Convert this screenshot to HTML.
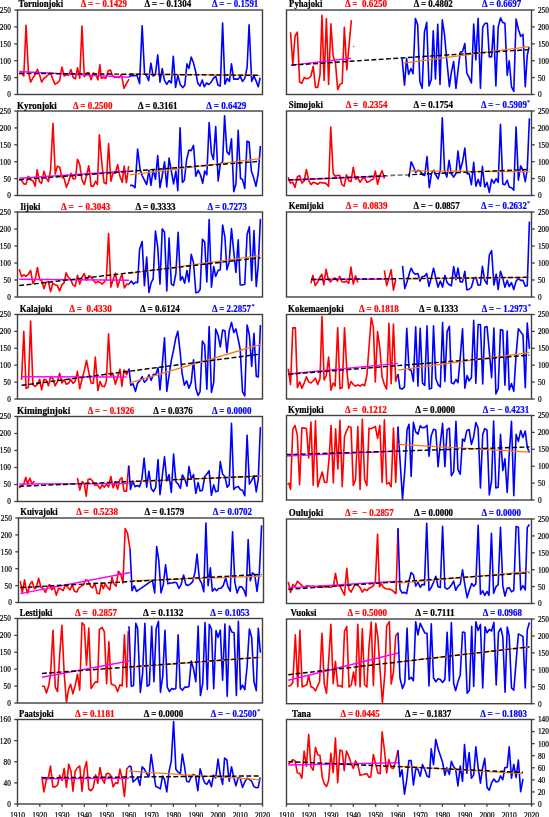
<!DOCTYPE html>
<html><head><meta charset="utf-8"><style>
html,body{margin:0;padding:0;background:#fff;}
svg{display:block;font-family:"Liberation Serif", serif;will-change:transform;}
</style></head><body>
<svg width="549" height="817" viewBox="0 0 549 817">
<rect width="549" height="817" fill="#fff"/>
<polyline points="19.27,74.07 21.54,73.31 23.8,76.03 26.07,25.39 28.34,71.5 30.61,82.08 32.87,77.85 35.14,74.52 37.41,69.23 39.68,75.28 41.64,82.08 43.91,78.3 46.18,76.79 48.45,74.52 50.56,73.31 52.83,79.06 55.1,84.35 57.37,82.84 59.63,80.57 61.9,66.96 64.17,76.03 66.44,74.52 68.7,75.28 70.97,69.53 73.24,77.54 75.51,78.75 77.47,67.72 79.74,78.3 82.01,26.14 84.28,76.79 86.54,73.01 88.81,72.56 91.08,79.81 93.35,73.01 95.62,74.52 97.88,79.81 99.85,64.69 101.33,78.3 103.74,77.54 105.86,78.3 108.28,70.74 110.4,69.99 112.36,75.28 114.63,77.54 116.9,76.79 119.17,77.54 121.43,74.52 124,88.43 126.42,83.59 128.99,79.06" fill="none" stroke="#ff0000" stroke-width="1.6" stroke-linejoin="round"/>
<polyline points="128.99,76.79 131.26,75.73 134.28,75.73 137.01,75.28 139.58,83.59 142.15,25.84 144.56,73.77 146.38,75.28 148.65,80.57 150.91,63.18 153.18,76.03 155.45,74.52 157.72,54.87 159.99,82.08 162.25,68.47 164.52,80.57 166.79,84.35 169.06,80.57 171.32,82.84 173.29,56.38 175.56,87.37 177.83,75.28 180.4,85.1 180.84,85.27 182.83,87.56 184.81,85.27 186.96,63.85 188.95,68.44 191.24,56.96 193.54,63.08 195.83,72.26 197.67,82.97 199.96,86.03 202.26,79.91 204.25,86.8 206.54,82.97 208.84,84.5 211.13,82.21 213.43,78.38 215.72,76.09 218.02,85.27 220.31,86.03 222.61,22.99 224.9,84.2 227.2,78.38 229.49,81.44 231.48,63.85 233.78,79.15 235.92,79.15 238.21,79.15 240.2,76.09 242.5,81.44 244.79,78.38 247.09,67.67 249.08,24.83 251.68,81.44 253.97,76.09 256.27,81.44 258.26,86.8 260.09,77.62" fill="none" stroke="#0000ff" stroke-width="1.6" stroke-linejoin="round"/>
<line x1="19.27" y1="71.5" x2="128.99" y2="77.24" stroke="#ff00ff" stroke-width="1.45"/>
<line x1="128.99" y1="73.92" x2="260.09" y2="75.32" stroke="#ff7a00" stroke-width="1.25"/>
<line x1="19.27" y1="73.31" x2="260.09" y2="75.32" stroke="#000" stroke-width="1.45" stroke-dasharray="4.9 2.4"/>
<rect x="17.5" y="10" width="245" height="84.5" fill="none" stroke="#404040" stroke-width="1.4"/>
<line x1="14.3" y1="94.5" x2="17.5" y2="94.5" stroke="#404040" stroke-width="1.3"/>
<text x="10.8" y="97.4" font-size="7.3" text-anchor="end" stroke="#000" stroke-width="0.2">0</text>
<line x1="14.3" y1="77.6" x2="17.5" y2="77.6" stroke="#404040" stroke-width="1.3"/>
<text x="10.8" y="80.5" font-size="7.3" text-anchor="end" stroke="#000" stroke-width="0.2">50</text>
<line x1="14.3" y1="60.7" x2="17.5" y2="60.7" stroke="#404040" stroke-width="1.3"/>
<text x="10.8" y="63.6" font-size="7.3" text-anchor="end" stroke="#000" stroke-width="0.2">100</text>
<line x1="14.3" y1="43.8" x2="17.5" y2="43.8" stroke="#404040" stroke-width="1.3"/>
<text x="10.8" y="46.7" font-size="7.3" text-anchor="end" stroke="#000" stroke-width="0.2">150</text>
<line x1="14.3" y1="26.9" x2="17.5" y2="26.9" stroke="#404040" stroke-width="1.3"/>
<text x="10.8" y="29.8" font-size="7.3" text-anchor="end" stroke="#000" stroke-width="0.2">200</text>
<line x1="14.3" y1="10" x2="17.5" y2="10" stroke="#404040" stroke-width="1.3"/>
<text x="10.8" y="12.9" font-size="7.3" text-anchor="end" stroke="#000" stroke-width="0.2">250</text>
<text x="18.6" y="6.8" font-size="9.8" font-weight="bold" fill="#000" stroke="#000" stroke-width="0.22" textLength="44.6" lengthAdjust="spacingAndGlyphs" xml:space="preserve">Tornionjoki</text>
<text x="80.7" y="6.8" font-size="9.8" font-weight="bold" fill="#ff0000" stroke="#ff0000" stroke-width="0.22" textLength="46.3" lengthAdjust="spacingAndGlyphs" xml:space="preserve">Δ = − 0.1429</text>
<text x="144.6" y="6.8" font-size="9.8" font-weight="bold" fill="#000" stroke="#000" stroke-width="0.22" textLength="46.5" lengthAdjust="spacingAndGlyphs" xml:space="preserve">Δ = − 0.1304</text>
<text x="212" y="6.8" font-size="9.8" font-weight="bold" fill="#0000ff" stroke="#0000ff" stroke-width="0.22" textLength="46.3" lengthAdjust="spacingAndGlyphs" xml:space="preserve">Δ = − 0.1591</text>
<polyline points="290.54,32.19 292.8,64.69 295.07,35.97 297.34,32.19 299.61,82.08 301.87,83.29 304.14,77.54 306.41,78.75 308.68,78.3 310.95,76.03 313.21,66.21 315.48,87.37 317.75,87.37 320.02,74.52 321.98,15.26 324.1,80.57 326.37,18.58 328.63,84.35 330.9,23.87 333.17,56.38 335.44,62.43 337.7,89.64 339.97,84.35 342.24,83.29 344.36,27.35 346.78,69.99 348.89,47.31 351.31,20.09" fill="none" stroke="#ff0000" stroke-width="1.6" stroke-linejoin="round"/>
<polyline points="402.07,58.65 404.49,85.1 406.61,58.65 408.58,74.52 410.84,68.47 413.11,73.77 415.38,18.58 417.65,24.63 419.91,82.08 422.18,88.13 424.45,32.19 426.72,22.36 428.99,85.86 431.25,79.81 433.22,30.68 435.49,79.06 437.75,24.33 440.02,84.35 442.29,19.79 444.56,35.21 446.83,60.91 449.4,86.62 451.37,72.26 453.66,61.55 455.96,88.33 457.95,70.73 460.24,52.37 462.54,51.61 464.83,43.5 466.82,73.03 469.11,77.62 471.41,82.97 473.7,24.07 475.85,60.02 478.14,18.4 480.44,88.33 482.73,27.13 485.03,23.3 487.32,23.3 489.31,56.96 491.61,56.66 493.6,25.6 495.89,86.03 498.19,27.13 500.48,17.95 502.78,22.54 504.92,23.3 507.21,75.32 509.2,60.79 511.5,86.8 513.79,91.39 516.09,19.02 518.38,29.42 520.68,36.31 522.97,34.32 525.27,86.8 527.26,55.43 529.09,47.02" fill="none" stroke="#0000ff" stroke-width="1.6" stroke-linejoin="round"/>
<circle cx="353.73" cy="46.55" r="0.75" fill="#666"/>
<line x1="291.29" y1="65.15" x2="351.01" y2="58.19" stroke="#ff00ff" stroke-width="1.45"/>
<line x1="403.28" y1="63.18" x2="529.09" y2="46.56" stroke="#ff7a00" stroke-width="1.25"/>
<line x1="291.29" y1="65.15" x2="529.09" y2="49.62" stroke="#000" stroke-width="1.45" stroke-dasharray="4.9 2.4"/>
<rect x="286.5" y="10" width="245" height="84.5" fill="none" stroke="#404040" stroke-width="1.4"/>
<line x1="531.5" y1="94.5" x2="534.7" y2="94.5" stroke="#404040" stroke-width="1.3"/>
<text x="537.9" y="97.4" font-size="7.3" stroke="#000" stroke-width="0.2">0</text>
<line x1="531.5" y1="77.6" x2="534.7" y2="77.6" stroke="#404040" stroke-width="1.3"/>
<text x="537.9" y="80.5" font-size="7.3" stroke="#000" stroke-width="0.2">50</text>
<line x1="531.5" y1="60.7" x2="534.7" y2="60.7" stroke="#404040" stroke-width="1.3"/>
<text x="537.9" y="63.6" font-size="7.3" stroke="#000" stroke-width="0.2">100</text>
<line x1="531.5" y1="43.8" x2="534.7" y2="43.8" stroke="#404040" stroke-width="1.3"/>
<text x="537.9" y="46.7" font-size="7.3" stroke="#000" stroke-width="0.2">150</text>
<line x1="531.5" y1="26.9" x2="534.7" y2="26.9" stroke="#404040" stroke-width="1.3"/>
<text x="537.9" y="29.8" font-size="7.3" stroke="#000" stroke-width="0.2">200</text>
<line x1="531.5" y1="10" x2="534.7" y2="10" stroke="#404040" stroke-width="1.3"/>
<text x="537.9" y="12.9" font-size="7.3" stroke="#000" stroke-width="0.2">250</text>
<text x="289.1" y="6.6" font-size="9.8" font-weight="bold" fill="#000" stroke="#000" stroke-width="0.22" textLength="33.2" lengthAdjust="spacingAndGlyphs" xml:space="preserve">Pyhajoki</text>
<text x="344.9" y="6.6" font-size="9.8" font-weight="bold" fill="#ff0000" stroke="#ff0000" stroke-width="0.22" textLength="42.1" lengthAdjust="spacingAndGlyphs" xml:space="preserve">Δ =  0.6250</text>
<text x="413.8" y="6.6" font-size="9.8" font-weight="bold" fill="#000" stroke="#000" stroke-width="0.22" textLength="39" lengthAdjust="spacingAndGlyphs" xml:space="preserve">Δ = 0.4802</text>
<text x="481.9" y="6.6" font-size="9.8" font-weight="bold" fill="#0000ff" stroke="#0000ff" stroke-width="0.22" textLength="39.3" lengthAdjust="spacingAndGlyphs" xml:space="preserve">Δ = 0.6697</text>
<polyline points="19.27,179.75 21.54,180.06 23.8,183.84 26.07,184.14 28.34,176.28 30.61,180.06 32.87,180.81 35.14,186.1 37.11,169.78 39.38,181.57 41.49,183.38 43.91,171.29 46.18,177.79 48.45,181.57 50.56,170.23 52.98,123.36 55.25,174.01 57.37,166.15 59.63,167.21 61.9,177.03 64.17,178.54 66.44,187.31 68.7,181.57 70.97,173.25 73.24,178.85 75.51,178.54 77.47,159.19 79.74,164.64 82.01,180.06 84.28,184.59 86.54,175.52 88.81,165.69 91.08,186.1 93.35,186.1 95.62,181.27 97.43,184.59 99.4,134.7 102.08,165.69 104.05,182.78 106.32,183.84 108.58,143.47 110.85,181.27 113.12,172.5 115.39,173.25 117.65,164.64 119.92,176.28 122.19,182.32 124.15,166.15 126.42,182.78 128.69,166.15" fill="none" stroke="#ff0000" stroke-width="1.6" stroke-linejoin="round"/>
<polyline points="130.05,185.35 132.47,185.35 135.04,187.62 137.61,149.06 140.03,168.72 142.15,175.52 144.41,180.06 146.68,184.59 148.95,170.23 150.91,185.35 153.18,169.47 155.45,179.3 157.72,155.56 159.99,187.62 162.25,175.52 164.52,161.91 166.79,186.86 169.06,158.13 171.32,170.99 173.59,183.84 175.86,170.99 177.83,190.64 180.09,127.9 182.37,182.44 184.36,180.15 186.65,159.49 188.95,150.01 191.24,150.62 193.54,145.42 195.83,176.32 198.13,170.2 200.42,174.79 202.72,183.21 204.7,170.97 206.85,174.79 209.14,122.46 211.44,153.37 213.43,159.49 215.72,126.6 218.17,180.91 220.31,164.08 222.61,161.79 224.6,115.89 226.89,151.84 229.19,154.6 231.48,138.84 233.78,191.62 235.92,183.97 238.21,130.42 240.51,178.62 242.5,179.38 244.79,188.56 247.09,141.13 249.08,141.9 251.37,170.97 253.67,177.85 255.96,186.27 258.26,173.26 260.4,146.03" fill="none" stroke="#0000ff" stroke-width="1.6" stroke-linejoin="round"/>
<line x1="19.27" y1="178.24" x2="128.99" y2="170.99" stroke="#ff00ff" stroke-width="1.45"/>
<line x1="129.75" y1="174.77" x2="260.09" y2="158.73" stroke="#ff7a00" stroke-width="1.25"/>
<line x1="19.27" y1="179.75" x2="260.09" y2="161.33" stroke="#000" stroke-width="1.45" stroke-dasharray="4.9 2.4"/>
<rect x="17.5" y="111" width="245" height="84.5" fill="none" stroke="#404040" stroke-width="1.4"/>
<line x1="14.3" y1="195.5" x2="17.5" y2="195.5" stroke="#404040" stroke-width="1.3"/>
<text x="10.8" y="198.4" font-size="7.3" text-anchor="end" stroke="#000" stroke-width="0.2">0</text>
<line x1="14.3" y1="178.6" x2="17.5" y2="178.6" stroke="#404040" stroke-width="1.3"/>
<text x="10.8" y="181.5" font-size="7.3" text-anchor="end" stroke="#000" stroke-width="0.2">50</text>
<line x1="14.3" y1="161.7" x2="17.5" y2="161.7" stroke="#404040" stroke-width="1.3"/>
<text x="10.8" y="164.6" font-size="7.3" text-anchor="end" stroke="#000" stroke-width="0.2">100</text>
<line x1="14.3" y1="144.8" x2="17.5" y2="144.8" stroke="#404040" stroke-width="1.3"/>
<text x="10.8" y="147.7" font-size="7.3" text-anchor="end" stroke="#000" stroke-width="0.2">150</text>
<line x1="14.3" y1="127.9" x2="17.5" y2="127.9" stroke="#404040" stroke-width="1.3"/>
<text x="10.8" y="130.8" font-size="7.3" text-anchor="end" stroke="#000" stroke-width="0.2">200</text>
<line x1="14.3" y1="111" x2="17.5" y2="111" stroke="#404040" stroke-width="1.3"/>
<text x="10.8" y="113.9" font-size="7.3" text-anchor="end" stroke="#000" stroke-width="0.2">250</text>
<text x="17.1" y="108.6" font-size="9.8" font-weight="bold" fill="#000" stroke="#000" stroke-width="0.22" textLength="39.7" lengthAdjust="spacingAndGlyphs" xml:space="preserve">Kyronjoki</text>
<text x="73" y="108.6" font-size="9.8" font-weight="bold" fill="#ff0000" stroke="#ff0000" stroke-width="0.22" textLength="39.4" lengthAdjust="spacingAndGlyphs" xml:space="preserve">Δ = 0.2500</text>
<text x="138" y="108.6" font-size="9.8" font-weight="bold" fill="#000" stroke="#000" stroke-width="0.22" textLength="39.4" lengthAdjust="spacingAndGlyphs" xml:space="preserve">Δ = 0.3161</text>
<text x="206.3" y="108.6" font-size="9.8" font-weight="bold" fill="#0000ff" stroke="#0000ff" stroke-width="0.22" textLength="40" lengthAdjust="spacingAndGlyphs" xml:space="preserve">Δ = 0.6429</text>
<polyline points="288.27,177.34 290.23,183.08 292.8,182.32 295.07,187.31 297.34,177.03 299.61,175.52 301.87,183.08 304.14,180.81 306.41,169.47 308.68,180.06 310.95,184.59 313.21,182.32 315.48,183.08 317.75,184.29 320.02,182.32 322.28,183.08 324.55,182.78 326.82,184.29 328.63,186.41 330.75,127.14 333.17,173.25 335.13,176.28 337.4,175.52 339.67,175.22 341.94,184.59 344.21,186.1 346.47,174.77 348.74,180.81 351.01,181.57 353.28,167.21 355.54,179.3 357.81,177.79 360.08,182.32 362.35,178.54 364.62,177.79 366.88,182.32 369,181.57 371.23,180.06 373.35,179.3 375.32,170.99 377.58,184.29 379.85,175.52 382.12,170.68 384.39,178.54" fill="none" stroke="#ff0000" stroke-width="1.6" stroke-linejoin="round"/>
<polyline points="409.03,177.03 411.15,161.91 413.41,166.45 415.68,172.5 417.95,170.23 420.22,170.99 422.48,174.77 424.75,175.52 427.02,156.62 429.29,187.62 431.56,173.25 433.82,170.23 436.09,175.52 438.06,178.85 440.32,170.23 442.29,117.77 444.56,170.23 446.83,177.03 449.09,160.4 451.37,174.03 453.66,177.09 455.96,173.26 457.95,151.08 460.24,170.2 462.54,161.79 464.83,148.02 467.13,174.03 469.11,173.26 471.41,184.74 473.7,162.25 475.85,186.27 478.14,179.38 480.44,186.27 482.43,166.38 484.72,187.03 487.02,182.44 489.31,192.39 491.61,179.38 493.9,183.21 496.2,178.62 498.19,182.44 500.48,124.3 502.78,183.97 504.92,184.74 507.21,180.15 509.2,187.03 511.5,187.8 513.79,190.09 516.09,127.05 518.38,180.15 520.68,165.92 522.97,170.2 525.27,181.68 527.26,169.44 529.4,118.18" fill="none" stroke="#0000ff" stroke-width="1.6" stroke-linejoin="round"/>
<line x1="288.27" y1="180.06" x2="384.39" y2="176.28" stroke="#ff00ff" stroke-width="1.45"/>
<line x1="409.33" y1="170.99" x2="529.4" y2="171.73" stroke="#ff7a00" stroke-width="1.25"/>
<line x1="288.27" y1="180.06" x2="529.4" y2="169.44" stroke="#000" stroke-width="1.45" stroke-dasharray="4.9 2.4"/>
<line x1="386" y1="175.75" x2="408" y2="174.78" stroke="#fff" stroke-opacity="0.45" stroke-width="2"/>
<rect x="286.5" y="111" width="245" height="84.5" fill="none" stroke="#404040" stroke-width="1.4"/>
<line x1="531.5" y1="195.5" x2="534.7" y2="195.5" stroke="#404040" stroke-width="1.3"/>
<text x="537.9" y="198.4" font-size="7.3" stroke="#000" stroke-width="0.2">0</text>
<line x1="531.5" y1="178.6" x2="534.7" y2="178.6" stroke="#404040" stroke-width="1.3"/>
<text x="537.9" y="181.5" font-size="7.3" stroke="#000" stroke-width="0.2">50</text>
<line x1="531.5" y1="161.7" x2="534.7" y2="161.7" stroke="#404040" stroke-width="1.3"/>
<text x="537.9" y="164.6" font-size="7.3" stroke="#000" stroke-width="0.2">100</text>
<line x1="531.5" y1="144.8" x2="534.7" y2="144.8" stroke="#404040" stroke-width="1.3"/>
<text x="537.9" y="147.7" font-size="7.3" stroke="#000" stroke-width="0.2">150</text>
<line x1="531.5" y1="127.9" x2="534.7" y2="127.9" stroke="#404040" stroke-width="1.3"/>
<text x="537.9" y="130.8" font-size="7.3" stroke="#000" stroke-width="0.2">200</text>
<line x1="531.5" y1="111" x2="534.7" y2="111" stroke="#404040" stroke-width="1.3"/>
<text x="537.9" y="113.9" font-size="7.3" stroke="#000" stroke-width="0.2">250</text>
<text x="288.8" y="108.2" font-size="9.8" font-weight="bold" fill="#000" stroke="#000" stroke-width="0.22" textLength="34.1" lengthAdjust="spacingAndGlyphs" xml:space="preserve">Simojoki</text>
<text x="345.7" y="108.2" font-size="9.8" font-weight="bold" fill="#ff0000" stroke="#ff0000" stroke-width="0.22" textLength="41.7" lengthAdjust="spacingAndGlyphs" xml:space="preserve">Δ =  0.2354</text>
<text x="413.4" y="108.2" font-size="9.8" font-weight="bold" fill="#000" stroke="#000" stroke-width="0.22" textLength="39.7" lengthAdjust="spacingAndGlyphs" xml:space="preserve">Δ = 0.1754</text>
<text x="480.9" y="108.2" font-size="9.8" font-weight="bold" fill="#0000ff" stroke="#0000ff" stroke-width="0.22" textLength="45.9" lengthAdjust="spacingAndGlyphs" xml:space="preserve">Δ = − 0.5909</text>
<text x="527.1" y="104.3" font-size="6.5" font-weight="bold" fill="#0000ff">*</text>
<polyline points="19.27,269.26 21.54,276.52 23.8,275.01 26.07,276.22 28.34,274.25 30.61,270.47 32.87,283.32 35.14,279.85 37.41,267.45 39.68,279.54 41.95,281.06 43.91,288.62 46.18,282.27 48.45,281.81 50.56,291.64 52.83,283.32 55.1,284.84 57.37,285.59 59.63,290.88 61.9,284.84 64.17,282.57 66.13,272.74 68.4,277.28 70.67,279.54 72.94,284.84 75.21,286.35 77.47,275.31 79.74,284.08 82.01,277.28 84.28,273.5 86.54,280.3 88.81,275.77 91.08,277.28 93.35,280.3 95.62,282.87 97.88,281.81 100,282.27 102.08,284.08 104.35,281.81 106.32,279.54 108.58,233.43 110.85,287.1 113.12,279.54 115.39,273.19 117.65,287.1 119.92,279.54 121.89,274.25 124.46,287.86 126.72,284.08 128.99,284.84" fill="none" stroke="#ff0000" stroke-width="1.6" stroke-linejoin="round"/>
<polyline points="128.99,284.08 131.26,281.06 133.53,284.08 135.49,282.27 137.61,282.57 139.58,249.31 142.15,241.45 144.41,285.59 146.68,257.17 148.95,292.4 151.22,282.57 153.18,278.79 155.45,231.17 157.72,247.04 159.99,284.08 162.25,228.9 164.52,231.92 166.79,290.88 169.06,237.97 171.32,284.08 173.59,285.59 175.86,273.5 178.13,232.38 180.4,280.3 182.37,276.56 184.66,283.14 186.96,270.44 188.95,281.91 191.24,254.37 193.54,262.79 195.83,292.62 198.13,292.32 200.11,289.56 202.41,239.38 204.7,242.13 206.85,281.91 209.14,219.49 211.44,287.27 213.73,266.61 215.72,276.56 218.02,270.44 220.31,269.67 222.61,224.99 224.9,236.78 226.89,269.67 229.19,262.02 231.48,228.67 233.78,252.08 235.92,272.43 238.21,239.84 240.2,284.97 242.5,284.97 244.79,284.21 247.09,234.48 249.38,226.83 251.68,280.38 253.97,230.66 256.27,286.5 258.26,265.08 260.4,218.87" fill="none" stroke="#0000ff" stroke-width="1.6" stroke-linejoin="round"/>
<line x1="19.27" y1="279.24" x2="128.99" y2="280.3" stroke="#ff00ff" stroke-width="1.45"/>
<line x1="128.99" y1="273.5" x2="260.4" y2="255.6" stroke="#ff7a00" stroke-width="1.25"/>
<line x1="19.27" y1="285.59" x2="260.4" y2="257.74" stroke="#000" stroke-width="1.45" stroke-dasharray="4.9 2.4"/>
<rect x="17.5" y="212" width="245" height="85" fill="none" stroke="#404040" stroke-width="1.4"/>
<line x1="14.3" y1="297" x2="17.5" y2="297" stroke="#404040" stroke-width="1.3"/>
<text x="10.8" y="299.9" font-size="7.3" text-anchor="end" stroke="#000" stroke-width="0.2">0</text>
<line x1="14.3" y1="280" x2="17.5" y2="280" stroke="#404040" stroke-width="1.3"/>
<text x="10.8" y="282.9" font-size="7.3" text-anchor="end" stroke="#000" stroke-width="0.2">50</text>
<line x1="14.3" y1="263" x2="17.5" y2="263" stroke="#404040" stroke-width="1.3"/>
<text x="10.8" y="265.9" font-size="7.3" text-anchor="end" stroke="#000" stroke-width="0.2">100</text>
<line x1="14.3" y1="246" x2="17.5" y2="246" stroke="#404040" stroke-width="1.3"/>
<text x="10.8" y="248.9" font-size="7.3" text-anchor="end" stroke="#000" stroke-width="0.2">150</text>
<line x1="14.3" y1="229" x2="17.5" y2="229" stroke="#404040" stroke-width="1.3"/>
<text x="10.8" y="231.9" font-size="7.3" text-anchor="end" stroke="#000" stroke-width="0.2">200</text>
<line x1="14.3" y1="212" x2="17.5" y2="212" stroke="#404040" stroke-width="1.3"/>
<text x="10.8" y="214.9" font-size="7.3" text-anchor="end" stroke="#000" stroke-width="0.2">250</text>
<text x="20.2" y="209.6" font-size="9.8" font-weight="bold" fill="#000" stroke="#000" stroke-width="0.22" textLength="20.3" lengthAdjust="spacingAndGlyphs" xml:space="preserve">Iijoki</text>
<text x="61" y="209.6" font-size="9.8" font-weight="bold" fill="#ff0000" stroke="#ff0000" stroke-width="0.22" textLength="49.4" lengthAdjust="spacingAndGlyphs" xml:space="preserve">Δ =  − 0.3043</text>
<text x="135.4" y="209.6" font-size="9.8" font-weight="bold" fill="#000" stroke="#000" stroke-width="0.22" textLength="40.2" lengthAdjust="spacingAndGlyphs" xml:space="preserve">Δ = 0.3333</text>
<text x="207.6" y="209.6" font-size="9.8" font-weight="bold" fill="#0000ff" stroke="#0000ff" stroke-width="0.22" textLength="39.4" lengthAdjust="spacingAndGlyphs" xml:space="preserve">Δ = 0.7273</text>
<polyline points="310.95,283.32 312.91,275.31 315.18,285.59 317.45,282.57 319.56,278.03 321.83,274.25 323.8,284.84 326.06,269.26 328.33,279.54 330.6,281.81 332.87,278.79 335.13,278.03 337.4,281.06 339.67,276.22 341.94,281.81 344.21,282.27 346.47,281.06 348.74,283.32 351.01,267.15 353.28,284.08 355.54,275.77 357.81,282.57" fill="none" stroke="#ff0000" stroke-width="1.6" stroke-linejoin="round"/>
<polyline points="384.39,270.47 386.65,285.59 388.92,278.03 391.19,269.72 393.46,290.13 395.72,279.54" fill="none" stroke="#ff0000" stroke-width="1.6" stroke-linejoin="round"/>
<polyline points="402.53,265.94 404.8,288.62 407.06,281.81 409.33,273.5 411.15,268.21 413.41,272.74 415.38,274.25 417.95,273.5 419.91,281.06 422.18,276.52 424.45,276.22 426.72,273.5 428.99,286.35 431.25,278.03 433.52,268.21 435.79,278.03 438.06,287.1 440.32,281.06 442.59,287.1 444.86,275.31 447.13,282.57 449.4,284.84 451.37,285.74 453.66,266.61 455.96,279.62 457.95,268.14 460.24,281.91 462.54,281.91 464.83,271.2 466.82,289.87 469.11,289.26 471.41,287.27 473.7,278.85 475.85,277.32 478.14,285.28 480.44,284.97 482.43,266.31 484.72,280.38 487.02,284.21 489.31,255.14 491.61,250.55 493.9,284.97 496.2,273.96 498.19,289.56 500.48,271.2 502.78,278.09 504.92,287.27 507.21,280.38 509.2,286.5 511.5,282.68 513.79,289.56 516.09,281.15 518.38,278.55 520.68,280.38 522.97,280.38 525.27,286.2 527.26,285.74 529.4,221.48" fill="none" stroke="#0000ff" stroke-width="1.6" stroke-linejoin="round"/>
<line x1="310.95" y1="279.54" x2="395.72" y2="279.09" stroke="#ff00ff" stroke-width="1.45"/>
<line x1="402.53" y1="278.79" x2="529.4" y2="277.32" stroke="#ff7a00" stroke-width="1.25"/>
<line x1="310.95" y1="279.54" x2="529.4" y2="277.32" stroke="#000" stroke-width="1.45" stroke-dasharray="4.9 2.4"/>
<rect x="286.5" y="212" width="245" height="85" fill="none" stroke="#404040" stroke-width="1.4"/>
<line x1="531.5" y1="297" x2="534.7" y2="297" stroke="#404040" stroke-width="1.3"/>
<text x="537.9" y="299.9" font-size="7.3" stroke="#000" stroke-width="0.2">0</text>
<line x1="531.5" y1="280" x2="534.7" y2="280" stroke="#404040" stroke-width="1.3"/>
<text x="537.9" y="282.9" font-size="7.3" stroke="#000" stroke-width="0.2">50</text>
<line x1="531.5" y1="263" x2="534.7" y2="263" stroke="#404040" stroke-width="1.3"/>
<text x="537.9" y="265.9" font-size="7.3" stroke="#000" stroke-width="0.2">100</text>
<line x1="531.5" y1="246" x2="534.7" y2="246" stroke="#404040" stroke-width="1.3"/>
<text x="537.9" y="248.9" font-size="7.3" stroke="#000" stroke-width="0.2">150</text>
<line x1="531.5" y1="229" x2="534.7" y2="229" stroke="#404040" stroke-width="1.3"/>
<text x="537.9" y="231.9" font-size="7.3" stroke="#000" stroke-width="0.2">200</text>
<line x1="531.5" y1="212" x2="534.7" y2="212" stroke="#404040" stroke-width="1.3"/>
<text x="537.9" y="214.9" font-size="7.3" stroke="#000" stroke-width="0.2">250</text>
<text x="288.8" y="208.7" font-size="9.8" font-weight="bold" fill="#000" stroke="#000" stroke-width="0.22" textLength="34.9" lengthAdjust="spacingAndGlyphs" xml:space="preserve">Kemijoki</text>
<text x="345.7" y="208.7" font-size="9.8" font-weight="bold" fill="#ff0000" stroke="#ff0000" stroke-width="0.22" textLength="41.7" lengthAdjust="spacingAndGlyphs" xml:space="preserve">Δ =  0.0839</text>
<text x="413.4" y="208.7" font-size="9.8" font-weight="bold" fill="#000" stroke="#000" stroke-width="0.22" textLength="46.3" lengthAdjust="spacingAndGlyphs" xml:space="preserve">Δ = − 0.0857</text>
<text x="480.9" y="208.7" font-size="9.8" font-weight="bold" fill="#0000ff" stroke="#0000ff" stroke-width="0.22" textLength="45.9" lengthAdjust="spacingAndGlyphs" xml:space="preserve">Δ = − 0.2632</text>
<text x="527.1" y="204.8" font-size="6.5" font-weight="bold" fill="#0000ff">*</text>
<polyline points="21.54,380.03 23.8,331.35 26.07,388.35 28.34,387.59 30.61,321.07 32.87,384.57 35.14,386.38 37.41,384.57 39.68,379.28 41.64,389.86 43.91,379.28 46.18,380.03 48.45,385.78 50.56,377.31 52.83,378.52 55.1,385.78 57.37,381.54 59.63,373.23 61.9,383.06 64.17,379.73 66.44,384.27 68.7,383.06 70.67,379.28 72.94,383.36 75.21,381.24 77.47,371.26 79.74,388.8 82.01,379.28 84.28,370.66 86.54,360.38 88.81,372.47 91.08,383.06 93.35,383.36 95.31,357.05 97.88,390.62 100,381.54 102.08,386.08 104.35,386.84 106.32,381.54 108.58,333.92 110.85,375.5 113.12,373.99 115.39,384.27 117.65,377.01 119.92,369.15 121.89,386.38 124.15,369.75 126.72,374.74 128.99,368.69" fill="none" stroke="#ff0000" stroke-width="1.6" stroke-linejoin="round"/>
<polyline points="128.99,368.69 130.96,385.32 133.07,383.81 135.49,391.37 137.61,383.06 139.88,380.79 142.15,376.71 144.41,382.3 146.68,380.03 148.95,374.74 151.22,380.34 153.48,374.29 155.75,374.74 158.02,367.64 159.99,389.86 162.25,364.91 164.52,337.7 166.79,391.37 169.06,375.5 171.32,360.38 173.59,349.8 175.86,337.7 177.83,331.35 180.4,354.33 182.06,373.2 184.36,385.14 186.65,380.85 188.95,388.2 191.24,382.38 193.54,359.74 195.83,388.5 198.13,395.39 200.11,391.56 202.41,341.07 204.7,344.9 206.85,389.27 209.14,326.54 211.44,392.33 213.73,382.38 215.72,329.14 218.02,334.95 220.31,346.89 222.61,330.05 224.9,330.67 226.89,352.55 229.19,331.13 231.48,322.4 233.78,332.66 235.92,328.83 238.21,339.23 240.2,349.49 242.5,391.56 244.79,395.85 247.09,325.01 249.38,334.95 251.68,366.32 253.97,333.42 256.27,376.26 258.26,377.03 260.4,325.01" fill="none" stroke="#0000ff" stroke-width="1.6" stroke-linejoin="round"/>
<line x1="21.54" y1="376.71" x2="126.72" y2="377.01" stroke="#ff00ff" stroke-width="1.45"/>
<line x1="128.99" y1="383.06" x2="260.4" y2="344.44" stroke="#ff7a00" stroke-width="1.25"/>
<line x1="21.54" y1="385.32" x2="260.4" y2="354.08" stroke="#000" stroke-width="1.45" stroke-dasharray="4.9 2.4"/>
<rect x="17.5" y="314.5" width="245" height="84.5" fill="none" stroke="#404040" stroke-width="1.4"/>
<line x1="14.3" y1="399" x2="17.5" y2="399" stroke="#404040" stroke-width="1.3"/>
<text x="10.8" y="401.9" font-size="7.3" text-anchor="end" stroke="#000" stroke-width="0.2">0</text>
<line x1="14.3" y1="382.1" x2="17.5" y2="382.1" stroke="#404040" stroke-width="1.3"/>
<text x="10.8" y="385" font-size="7.3" text-anchor="end" stroke="#000" stroke-width="0.2">50</text>
<line x1="14.3" y1="365.2" x2="17.5" y2="365.2" stroke="#404040" stroke-width="1.3"/>
<text x="10.8" y="368.1" font-size="7.3" text-anchor="end" stroke="#000" stroke-width="0.2">100</text>
<line x1="14.3" y1="348.3" x2="17.5" y2="348.3" stroke="#404040" stroke-width="1.3"/>
<text x="10.8" y="351.2" font-size="7.3" text-anchor="end" stroke="#000" stroke-width="0.2">150</text>
<line x1="14.3" y1="331.4" x2="17.5" y2="331.4" stroke="#404040" stroke-width="1.3"/>
<text x="10.8" y="334.3" font-size="7.3" text-anchor="end" stroke="#000" stroke-width="0.2">200</text>
<line x1="14.3" y1="314.5" x2="17.5" y2="314.5" stroke="#404040" stroke-width="1.3"/>
<text x="10.8" y="317.4" font-size="7.3" text-anchor="end" stroke="#000" stroke-width="0.2">250</text>
<text x="19.7" y="311.7" font-size="9.8" font-weight="bold" fill="#000" stroke="#000" stroke-width="0.22" textLength="32.8" lengthAdjust="spacingAndGlyphs" xml:space="preserve">Kalajoki</text>
<text x="69.2" y="311.7" font-size="9.8" font-weight="bold" fill="#ff0000" stroke="#ff0000" stroke-width="0.22" textLength="42.7" lengthAdjust="spacingAndGlyphs" xml:space="preserve">Δ =  0.4330</text>
<text x="140" y="311.7" font-size="9.8" font-weight="bold" fill="#000" stroke="#000" stroke-width="0.22" textLength="39.9" lengthAdjust="spacingAndGlyphs" xml:space="preserve">Δ = 0.6124</text>
<text x="211.9" y="311.7" font-size="9.8" font-weight="bold" fill="#0000ff" stroke="#0000ff" stroke-width="0.22" textLength="39.2" lengthAdjust="spacingAndGlyphs" xml:space="preserve">Δ = 2.2857</text>
<text x="251.4" y="307.8" font-size="6.5" font-weight="bold" fill="#0000ff">*</text>
<polyline points="288.27,368.69 290.54,384.57 292.8,327.87 295.37,327.87 297.34,387.59 299.61,381.85 301.87,388.35 304.14,383.06 306.41,376.71 308.68,381.85 310.95,383.06 313.21,380.79 315.48,378.22 317.75,384.57 320.02,378.52 321.98,316.54 324.1,380.03 326.37,375.5 328.63,357.05 330.9,390.31 333.17,383.06 335.13,386.08 337.7,327.87 339.97,388.8 342.24,387.59 344.51,327.87 346.78,369.45 348.74,388.35 351.01,381.54 353.28,384.57 355.54,386.08 357.81,384.87 360.08,386.08 362.35,384.27 364.62,385.78 366.88,375.5 371.23,317.74 373.35,327.12 375.32,381.85 377.58,331.65 379.85,348.28 382.12,377.01 384.39,384.57 386.65,389.1 388.92,323.34 391.19,383.81 393.46,324.09 395.72,381.54 397.99,373.99" fill="none" stroke="#ff0000" stroke-width="1.6" stroke-linejoin="round"/>
<polyline points="397.99,373.99 399.96,388.35 402.07,389.1 404.49,386.84 406.76,328.33 409.03,369.45 411.15,370.21 413.41,381.54 415.68,326.82 417.95,386.08 420.22,328.33 422.48,383.06 424.75,385.32 427.02,325.91 429.29,389.1 431.56,388.35 433.52,325.91 435.79,378.52 438.06,384.57 440.32,386.84 442.59,322.58 444.86,381.54 447.13,331.65 449.4,326.36 451.37,382.69 453.66,383.91 455.96,379.32 457.95,382.69 460.24,357.9 462.54,328.83 464.83,388.2 467.13,375.5 469.11,380.85 471.41,377.79 473.7,320.42 475.85,383.15 478.14,324.55 480.44,324.55 482.73,383.91 484.72,327.3 487.02,326.54 489.31,351.78 491.61,377.79 493.9,328.07 495.89,393.86 498.19,388.5 500.48,329.6 502.78,330.36 504.92,385.14 507.21,331.13 509.2,390.03 511.5,383.61 513.79,391.26 516.09,354.84 518.38,328.83 520.68,331.89 522.97,334.95 525.27,387.74 527.26,323.02 529.4,348.72" fill="none" stroke="#0000ff" stroke-width="1.6" stroke-linejoin="round"/>
<line x1="288.27" y1="373.99" x2="397.99" y2="363.4" stroke="#ff00ff" stroke-width="1.45"/>
<line x1="397.99" y1="370.21" x2="529.4" y2="352.55" stroke="#ff7a00" stroke-width="1.25"/>
<line x1="288.27" y1="374.29" x2="529.4" y2="355.15" stroke="#000" stroke-width="1.45" stroke-dasharray="4.9 2.4"/>
<rect x="286.5" y="314.5" width="245" height="84.5" fill="none" stroke="#404040" stroke-width="1.4"/>
<line x1="531.5" y1="399" x2="534.7" y2="399" stroke="#404040" stroke-width="1.3"/>
<text x="537.9" y="401.9" font-size="7.3" stroke="#000" stroke-width="0.2">0</text>
<line x1="531.5" y1="382.1" x2="534.7" y2="382.1" stroke="#404040" stroke-width="1.3"/>
<text x="537.9" y="385" font-size="7.3" stroke="#000" stroke-width="0.2">50</text>
<line x1="531.5" y1="365.2" x2="534.7" y2="365.2" stroke="#404040" stroke-width="1.3"/>
<text x="537.9" y="368.1" font-size="7.3" stroke="#000" stroke-width="0.2">100</text>
<line x1="531.5" y1="348.3" x2="534.7" y2="348.3" stroke="#404040" stroke-width="1.3"/>
<text x="537.9" y="351.2" font-size="7.3" stroke="#000" stroke-width="0.2">150</text>
<line x1="531.5" y1="331.4" x2="534.7" y2="331.4" stroke="#404040" stroke-width="1.3"/>
<text x="537.9" y="334.3" font-size="7.3" stroke="#000" stroke-width="0.2">200</text>
<line x1="531.5" y1="314.5" x2="534.7" y2="314.5" stroke="#404040" stroke-width="1.3"/>
<text x="537.9" y="317.4" font-size="7.3" stroke="#000" stroke-width="0.2">250</text>
<text x="288.1" y="311.6" font-size="9.8" font-weight="bold" fill="#000" stroke="#000" stroke-width="0.22" textLength="55.5" lengthAdjust="spacingAndGlyphs" xml:space="preserve">Kokemaenjoki</text>
<text x="359" y="311.6" font-size="9.8" font-weight="bold" fill="#ff0000" stroke="#ff0000" stroke-width="0.22" textLength="39.9" lengthAdjust="spacingAndGlyphs" xml:space="preserve">Δ = 0.1818</text>
<text x="419" y="311.6" font-size="9.8" font-weight="bold" fill="#000" stroke="#000" stroke-width="0.22" textLength="39.2" lengthAdjust="spacingAndGlyphs" xml:space="preserve">Δ = 0.1333</text>
<text x="481.7" y="311.6" font-size="9.8" font-weight="bold" fill="#0000ff" stroke="#0000ff" stroke-width="0.22" textLength="45.7" lengthAdjust="spacingAndGlyphs" xml:space="preserve">Δ = − 1.2973</text>
<text x="527.7" y="307.7" font-size="6.5" font-weight="bold" fill="#0000ff">*</text>
<polyline points="19.27,487.84 21.54,485.87 23.8,484.06 25.77,477.25 27.58,484.06 29.85,478.31 32.12,484.06 34.39,481.03" fill="none" stroke="#ff0000" stroke-width="1.6" stroke-linejoin="round"/>
<polyline points="77.47,478.01 79.74,490.1 82.01,481.79 84.28,483.3 86.24,496.15 88.06,479.52 90.32,478.77 92.59,481.03 94.86,485.27 97.13,484.81 100,488.59 102.08,484.81 104.35,487.08 106.62,484.36 108.58,487.08 110.85,476.5 113.12,487.84 115.39,481.79 117.65,489.35 119.92,479.52 121.89,477.71 124,490.86 126.42,491.31 128.69,465.61" fill="none" stroke="#ff0000" stroke-width="1.6" stroke-linejoin="round"/>
<polyline points="128.69,465.61 130.5,489.35 132.77,481.03 135.04,486.78 137.31,485.57 139.58,486.78 141.84,479.52 144.11,458.05 146.68,487.08 148.95,471.21 151.22,488.59 153.48,491.62 155.75,487.08 158.02,459.56 159.99,494.64 162.25,476.5 164.52,456.84 166.79,481.03 169.06,474.68 171.32,492.37 173.59,454.12 175.86,481.79 178.13,484.06 180.4,488.29 182.37,474.97 184.66,478.79 186.96,486.14 188.95,466.55 191.24,478.79 193.54,474.51 195.83,493.33 198.13,482.62 200.11,491.03 202.41,490.27 204.7,476.5 206.85,473.9 209.14,470.84 211.44,495.32 213.73,484.91 215.72,491.8 218.02,491.03 220.31,461.66 222.61,474.2 224.9,476.5 227.2,487.21 229.19,484.91 231.48,423.4 233.78,489.5 235.92,487.21 238.21,486.44 240.2,489.5 242.5,490.27 244.79,495.62 247.09,435.19 249.38,484.15 251.68,480.32 253.97,475.73 256.27,491.8 258.26,478.79 260.4,427.08" fill="none" stroke="#0000ff" stroke-width="1.6" stroke-linejoin="round"/>
<line x1="19.27" y1="484.06" x2="128.69" y2="483.6" stroke="#ff00ff" stroke-width="1.45"/>
<line x1="128.69" y1="481.79" x2="260.4" y2="476.04" stroke="#ff7a00" stroke-width="1.25"/>
<line x1="19.27" y1="486.32" x2="260.4" y2="476.04" stroke="#000" stroke-width="1.45" stroke-dasharray="4.9 2.4"/>
<rect x="17.5" y="416.5" width="245" height="85" fill="none" stroke="#404040" stroke-width="1.4"/>
<line x1="14.3" y1="501.5" x2="17.5" y2="501.5" stroke="#404040" stroke-width="1.3"/>
<text x="10.8" y="504.4" font-size="7.3" text-anchor="end" stroke="#000" stroke-width="0.2">0</text>
<line x1="14.3" y1="484.5" x2="17.5" y2="484.5" stroke="#404040" stroke-width="1.3"/>
<text x="10.8" y="487.4" font-size="7.3" text-anchor="end" stroke="#000" stroke-width="0.2">50</text>
<line x1="14.3" y1="467.5" x2="17.5" y2="467.5" stroke="#404040" stroke-width="1.3"/>
<text x="10.8" y="470.4" font-size="7.3" text-anchor="end" stroke="#000" stroke-width="0.2">100</text>
<line x1="14.3" y1="450.5" x2="17.5" y2="450.5" stroke="#404040" stroke-width="1.3"/>
<text x="10.8" y="453.4" font-size="7.3" text-anchor="end" stroke="#000" stroke-width="0.2">150</text>
<line x1="14.3" y1="433.5" x2="17.5" y2="433.5" stroke="#404040" stroke-width="1.3"/>
<text x="10.8" y="436.4" font-size="7.3" text-anchor="end" stroke="#000" stroke-width="0.2">200</text>
<line x1="14.3" y1="416.5" x2="17.5" y2="416.5" stroke="#404040" stroke-width="1.3"/>
<text x="10.8" y="419.4" font-size="7.3" text-anchor="end" stroke="#000" stroke-width="0.2">250</text>
<text x="17.1" y="413.8" font-size="9.8" font-weight="bold" fill="#000" stroke="#000" stroke-width="0.22" textLength="53.3" lengthAdjust="spacingAndGlyphs" xml:space="preserve">Kiminginjoki</text>
<text x="87.8" y="413.8" font-size="9.8" font-weight="bold" fill="#ff0000" stroke="#ff0000" stroke-width="0.22" textLength="46.3" lengthAdjust="spacingAndGlyphs" xml:space="preserve">Δ = − 0.1926</text>
<text x="153.3" y="413.8" font-size="9.8" font-weight="bold" fill="#000" stroke="#000" stroke-width="0.22" textLength="39.4" lengthAdjust="spacingAndGlyphs" xml:space="preserve">Δ = 0.0376</text>
<text x="211.9" y="413.8" font-size="9.8" font-weight="bold" fill="#0000ff" stroke="#0000ff" stroke-width="0.22" textLength="39.5" lengthAdjust="spacingAndGlyphs" xml:space="preserve">Δ = 0.0000</text>
<polyline points="287.51,484.06 289.02,483.3 290.54,489.35 292.8,429.33 295.07,425.4 297.34,435.68 299.61,484.81 301.87,427.82 304.14,428.12 306.41,428.42 308.68,458.05 310.95,422.07 313.21,485.27 315.48,420.86 317.75,486.78 320.02,478.77 322.28,471.96 324.55,482.54 326.82,482.54 329.09,458.36 331.05,425.4 333.32,482.85 335.59,428.87 337.86,468.94 339.97,420.26 342.24,486.78 344.51,436.43 346.47,431.14 348.74,426.3 351.01,427.36 353.28,485.57 355.54,479.52 357.81,426.61 360.08,489.35 362.35,419.35 364.62,479.52 366.88,485.57 369,428.12 370.78,428.87 373.05,427.82 375.32,426.3 377.58,438.4 379.85,425.4 382.12,482.54 384.39,419.8 386.65,484.06 388.92,482.54 391.19,486.78 393.46,428.12 395.72,482.54 397.99,426.61" fill="none" stroke="#ff0000" stroke-width="1.6" stroke-linejoin="round"/>
<polyline points="397.99,426.61 398.45,435.68 402.53,499.17 404.8,470.45 407.06,429.63 409.03,424.34 411.15,476.5 413.41,422.37 415.68,431.9 417.95,434.17 420.22,425.85 422.48,427.82 424.75,427.36 427.02,425.4 428.99,456.09 431.25,435.68 433.52,429.33 435.79,429.93 438.06,466.67 440.32,443.24 442.59,423.28 444.86,466.67 447.13,429.63 449.4,428.12 451.37,475.73 453.66,471.91 455.96,421.42 457.95,469.61 460.24,474.2 462.54,439.01 464.52,441.31 466.82,430.6 469.11,429.52 471.41,444.37 473.7,436.72 475.85,422.49 478.14,428.3 480.44,487.97 482.73,434.42 484.72,428.61 487.02,430.14 489.31,494.86 491.61,480.32 493.6,420.96 495.89,487.97 498.19,487.21 500.48,434.42 502.78,470.38 504.92,458.9 507.21,492.56 509.2,454.31 511.5,421.42 513.79,495.62 516.09,434.42 518.38,441.31 520.68,430.6 522.97,437.48 525.27,431.05 527.26,447.43 529.4,452.48" fill="none" stroke="#0000ff" stroke-width="1.6" stroke-linejoin="round"/>
<line x1="286" y1="456.09" x2="397.99" y2="451.1" stroke="#ff00ff" stroke-width="1.45"/>
<line x1="398.75" y1="444.45" x2="529.4" y2="452.02" stroke="#ff7a00" stroke-width="1.25"/>
<line x1="286" y1="454.58" x2="529.4" y2="446.97" stroke="#000" stroke-width="1.45" stroke-dasharray="4.9 2.4"/>
<rect x="286.5" y="415.5" width="245" height="84.5" fill="none" stroke="#404040" stroke-width="1.4"/>
<line x1="531.5" y1="500" x2="534.7" y2="500" stroke="#404040" stroke-width="1.3"/>
<text x="537.9" y="502.9" font-size="7.3" stroke="#000" stroke-width="0.2">0</text>
<line x1="531.5" y1="483.1" x2="534.7" y2="483.1" stroke="#404040" stroke-width="1.3"/>
<text x="537.9" y="486" font-size="7.3" stroke="#000" stroke-width="0.2">50</text>
<line x1="531.5" y1="466.2" x2="534.7" y2="466.2" stroke="#404040" stroke-width="1.3"/>
<text x="537.9" y="469.1" font-size="7.3" stroke="#000" stroke-width="0.2">100</text>
<line x1="531.5" y1="449.3" x2="534.7" y2="449.3" stroke="#404040" stroke-width="1.3"/>
<text x="537.9" y="452.2" font-size="7.3" stroke="#000" stroke-width="0.2">150</text>
<line x1="531.5" y1="432.4" x2="534.7" y2="432.4" stroke="#404040" stroke-width="1.3"/>
<text x="537.9" y="435.3" font-size="7.3" stroke="#000" stroke-width="0.2">200</text>
<line x1="531.5" y1="415.5" x2="534.7" y2="415.5" stroke="#404040" stroke-width="1.3"/>
<text x="537.9" y="418.4" font-size="7.3" stroke="#000" stroke-width="0.2">250</text>
<text x="288.1" y="412.7" font-size="9.8" font-weight="bold" fill="#000" stroke="#000" stroke-width="0.22" textLength="35.6" lengthAdjust="spacingAndGlyphs" xml:space="preserve">Kymijoki</text>
<text x="345" y="412.7" font-size="9.8" font-weight="bold" fill="#ff0000" stroke="#ff0000" stroke-width="0.22" textLength="41.7" lengthAdjust="spacingAndGlyphs" xml:space="preserve">Δ =  0.1212</text>
<text x="415.2" y="412.7" font-size="9.8" font-weight="bold" fill="#000" stroke="#000" stroke-width="0.22" textLength="39.9" lengthAdjust="spacingAndGlyphs" xml:space="preserve">Δ = 0.0000</text>
<text x="482.8" y="412.7" font-size="9.8" font-weight="bold" fill="#0000ff" stroke="#0000ff" stroke-width="0.22" textLength="46.3" lengthAdjust="spacingAndGlyphs" xml:space="preserve">Δ = − 0.4231</text>
<polyline points="20.33,581.22 22.29,592.86 24.56,579.71 25.77,587.27 27.58,593.31 29.85,584.54 32.12,581.52 34.39,588.78 36.35,587.57 38.62,578.19 40.89,587.27 43,588.32 45.42,592.41 47.69,586.81 49.5,584.54 51.77,589.84 54.04,587.27 56.31,595.13 58.58,588.32 60.84,589.08 63.11,590.59 65.38,584.85 67.65,587.27 69.91,589.84 72.18,584.85 74.45,591.35 76.72,592.1 78.99,587.57 81.25,586.06 83.52,584.85 85.79,579.71 88.06,580.77 90.32,586.06 92.59,587.87 94.86,583.34 97.13,593.31 99.4,593.62 101.33,583.03 103.29,588.78 105.26,583.79 107.37,587.27 109.79,589.84 111.91,577.29 113.87,583.79 116.14,586.06 118.41,571.24 120.68,573.96 122.95,583.03 125.21,528.61 127.48,533.14 130.05,549.02" fill="none" stroke="#ff0000" stroke-width="1.6" stroke-linejoin="round"/>
<polyline points="130.05,549.02 132.02,590.59 134.28,585.75 136.55,591.35 152.43,580.31 154.69,592.86 156.66,546.45 158.78,560.36 161.04,592.86 163.31,584.54 165.58,564.89 167.85,583.79 170.11,583.03 172.38,583.03 174.35,582.28 176.62,582.73 178.88,588.32 181,584.85 183.59,574.98 185.89,584.62 188.18,585.38 190.48,583.85 192.77,581.56 195.07,571.61 197.05,554.02 199.35,579.26 201.64,583.09 203.79,591.81 205.93,522.96 208.07,585.69 210.37,567.79 212.36,591.2 214.65,588.44 216.64,590.74 218.78,588.44 221.08,588.14 223.37,585.38 225.67,577.73 227.96,586.91 230.26,591.2 232.55,531.83 234.85,582.32 237.14,593.03 239.44,586.91 241.73,586.91 244.03,590.28 246.02,596.09 248.16,539.48 250.3,580.79 252.44,572.84 254.74,574.67 257.03,591.5 259.33,573.14 261.62,525.4" fill="none" stroke="#0000ff" stroke-width="1.6" stroke-linejoin="round"/>
<line x1="20.33" y1="593.62" x2="130.05" y2="572.45" stroke="#ff00ff" stroke-width="1.45"/>
<line x1="130.5" y1="580.77" x2="261.62" y2="576.2" stroke="#ff7a00" stroke-width="1.25"/>
<line x1="20.33" y1="587.57" x2="261.62" y2="574.37" stroke="#000" stroke-width="1.45" stroke-dasharray="4.9 2.4"/>
<rect x="18.5" y="518" width="245" height="84.5" fill="none" stroke="#404040" stroke-width="1.4"/>
<line x1="15.3" y1="602.5" x2="18.5" y2="602.5" stroke="#404040" stroke-width="1.3"/>
<text x="11.8" y="605.4" font-size="7.3" text-anchor="end" stroke="#000" stroke-width="0.2">0</text>
<line x1="15.3" y1="585.6" x2="18.5" y2="585.6" stroke="#404040" stroke-width="1.3"/>
<text x="11.8" y="588.5" font-size="7.3" text-anchor="end" stroke="#000" stroke-width="0.2">50</text>
<line x1="15.3" y1="568.7" x2="18.5" y2="568.7" stroke="#404040" stroke-width="1.3"/>
<text x="11.8" y="571.6" font-size="7.3" text-anchor="end" stroke="#000" stroke-width="0.2">100</text>
<line x1="15.3" y1="551.8" x2="18.5" y2="551.8" stroke="#404040" stroke-width="1.3"/>
<text x="11.8" y="554.7" font-size="7.3" text-anchor="end" stroke="#000" stroke-width="0.2">150</text>
<line x1="15.3" y1="534.9" x2="18.5" y2="534.9" stroke="#404040" stroke-width="1.3"/>
<text x="11.8" y="537.8" font-size="7.3" text-anchor="end" stroke="#000" stroke-width="0.2">200</text>
<line x1="15.3" y1="518" x2="18.5" y2="518" stroke="#404040" stroke-width="1.3"/>
<text x="11.8" y="520.9" font-size="7.3" text-anchor="end" stroke="#000" stroke-width="0.2">250</text>
<text x="20.2" y="514.7" font-size="9.8" font-weight="bold" fill="#000" stroke="#000" stroke-width="0.22" textLength="37.4" lengthAdjust="spacingAndGlyphs" xml:space="preserve">Kuivajoki</text>
<text x="76.3" y="514.7" font-size="9.8" font-weight="bold" fill="#ff0000" stroke="#ff0000" stroke-width="0.22" textLength="41.8" lengthAdjust="spacingAndGlyphs" xml:space="preserve">Δ =  0.5238</text>
<text x="144.6" y="514.7" font-size="9.8" font-weight="bold" fill="#000" stroke="#000" stroke-width="0.22" textLength="39.7" lengthAdjust="spacingAndGlyphs" xml:space="preserve">Δ = 0.1579</text>
<text x="212.7" y="514.7" font-size="9.8" font-weight="bold" fill="#0000ff" stroke="#0000ff" stroke-width="0.22" textLength="39.4" lengthAdjust="spacingAndGlyphs" xml:space="preserve">Δ = 0.0702</text>
<polyline points="288.27,581.82 290.54,592.41 292.8,584.54 295.07,586.81 297.34,581.22 299.61,583.34 301.87,585.3 304.14,588.32 306.41,585.75 308.68,586.06 310.95,586.36 313.21,586.36 315.48,586.81 317.75,586.81 320.02,586.06 322.28,587.27 324.55,586.81 326.82,586.36 329.09,587.27 331.36,587.27 333.62,585.3 335.44,573.21 337.7,585.75 339.97,585.75 342.24,590.59 344.51,595.13 346.78,568.22 348.74,589.08 351.01,592.1 353.28,587.57 355.54,583.79 357.81,585.3 360.08,587.57 362.35,592.1 364.62,589.08 366.88,590.59 369,588.32 370.78,587.57 373.35,585.75 375.32,581.52 377.58,534.35 379.4,586.81 381.36,583.79 383.63,587.57 385.9,588.78 388.17,589.08 390.43,589.38 392.7,590.59 394.97,592.86 396.03,593.62 397.99,528.3" fill="none" stroke="#ff0000" stroke-width="1.6" stroke-linejoin="round"/>
<polyline points="397.99,528.3 399.96,589.08 402.07,592.86 404.49,592.41 406.61,593.62 408.88,581.52 411.15,572.45 413.41,574.72 415.68,586.06 417.95,582.28 420.22,587.27 422.18,584.54 424.45,584.85 426.72,523.32 428.99,590.59 431.25,587.57 433.52,582.28 435.79,576.23 438.06,586.81 440.32,587.57 442.59,526.34 444.86,587.57 447.13,589.08 449.4,587.57 451.37,585.08 453.66,581.1 455.65,590.28 457.95,586.15 460.24,584.16 462.54,569.78 464.83,584.62 467.13,597.62 469.42,589.97 471.72,583.55 473.7,586.15 475.85,583.85 478.14,525.4 480.44,594.26 482.73,590.74 484.72,595.33 487.02,591.5 489.01,595.33 491.45,533.36 493.6,593.34 495.89,586.91 498.19,584.62 500.48,527.24 502.78,585.38 504.92,596.09 507.21,588.14 509.2,587.68 511.5,591.81 513.79,590.28 516.09,526.48 518.38,527.24 520.68,589.97 522.97,585.69 525.27,589.97 527.26,527.55 529.4,524.49" fill="none" stroke="#0000ff" stroke-width="1.6" stroke-linejoin="round"/>
<line x1="288.27" y1="587.87" x2="397.24" y2="581.22" stroke="#ff00ff" stroke-width="1.45"/>
<line x1="397.99" y1="583.03" x2="529.4" y2="571.61" stroke="#ff7a00" stroke-width="1.25"/>
<line x1="288.27" y1="589.38" x2="529.4" y2="572.84" stroke="#000" stroke-width="1.45" stroke-dasharray="4.9 2.4"/>
<rect x="286.5" y="519" width="245" height="84.5" fill="none" stroke="#404040" stroke-width="1.4"/>
<line x1="531.5" y1="603.5" x2="534.7" y2="603.5" stroke="#404040" stroke-width="1.3"/>
<text x="537.9" y="606.4" font-size="7.3" stroke="#000" stroke-width="0.2">0</text>
<line x1="531.5" y1="586.6" x2="534.7" y2="586.6" stroke="#404040" stroke-width="1.3"/>
<text x="537.9" y="589.5" font-size="7.3" stroke="#000" stroke-width="0.2">50</text>
<line x1="531.5" y1="569.7" x2="534.7" y2="569.7" stroke="#404040" stroke-width="1.3"/>
<text x="537.9" y="572.6" font-size="7.3" stroke="#000" stroke-width="0.2">100</text>
<line x1="531.5" y1="552.8" x2="534.7" y2="552.8" stroke="#404040" stroke-width="1.3"/>
<text x="537.9" y="555.7" font-size="7.3" stroke="#000" stroke-width="0.2">150</text>
<line x1="531.5" y1="535.9" x2="534.7" y2="535.9" stroke="#404040" stroke-width="1.3"/>
<text x="537.9" y="538.8" font-size="7.3" stroke="#000" stroke-width="0.2">200</text>
<line x1="531.5" y1="519" x2="534.7" y2="519" stroke="#404040" stroke-width="1.3"/>
<text x="537.9" y="521.9" font-size="7.3" stroke="#000" stroke-width="0.2">250</text>
<text x="288.8" y="515.9" font-size="9.8" font-weight="bold" fill="#000" stroke="#000" stroke-width="0.22" textLength="34.4" lengthAdjust="spacingAndGlyphs" xml:space="preserve">Oulujoki</text>
<text x="345" y="515.9" font-size="9.8" font-weight="bold" fill="#ff0000" stroke="#ff0000" stroke-width="0.22" textLength="48.8" lengthAdjust="spacingAndGlyphs" xml:space="preserve">Δ =  − 0.2857</text>
<text x="413.9" y="515.9" font-size="9.8" font-weight="bold" fill="#000" stroke="#000" stroke-width="0.22" textLength="39.2" lengthAdjust="spacingAndGlyphs" xml:space="preserve">Δ = 0.0000</text>
<text x="481.5" y="515.9" font-size="9.8" font-weight="bold" fill="#0000ff" stroke="#0000ff" stroke-width="0.22" textLength="39.4" lengthAdjust="spacingAndGlyphs" xml:space="preserve">Δ = 0.0000</text>
<polyline points="41.95,686.3 44.21,686.3 46.48,693.1 48.75,685.54 50.56,674.21 52.98,630.36 55.25,687.06 57.52,691.59 59.63,656.06 61.9,625.37 64.17,673.45 66.44,702.17 68.7,688.57 70.67,684.34 72.94,693.86 75.21,685.24 77.47,674.21 79.74,690.08 82.01,622.8 84.28,625.07 86.54,665.13 88.81,628.09 91.08,688.57 93.35,684.79 95.62,681.77 97.58,682.52 99.4,629.61 102.08,627.34 104.35,631.87 106.62,683.73 108.89,641.7 111.15,684.03 113.12,684.79 115.39,685.85 117.65,691.59 119.92,684.79 122.19,685.85 124.46,634.9 126.72,687.06 128.24,631.12" fill="none" stroke="#ff0000" stroke-width="1.6" stroke-linejoin="round"/>
<polyline points="128.99,626.28 131.26,686.3 133.53,685.54 135.8,623.26 137.61,628.09 140.33,692.35 142.6,673.45 144.87,623.26 147.13,686.3 149.4,684.79 151.67,626.28 153.94,681.77 156.21,628.85 158.47,621.29 160.44,692.35 162.71,676.47 164.97,630.36 167.24,687.06 169.51,691.59 171.78,688.57 173.59,689.32 175.86,688.57 178.13,634.9 180.22,687.91 182.37,690.21 184.66,687.15 186.96,687.15 188.95,686.38 191.24,661.14 193.54,668.79 195.83,681.79 198.13,625.95 200.42,695.56 202.72,683.32 205.01,622.43 207.31,689.44 209.3,624.42 211.44,629.01 213.73,688.68 216.03,630.54 218.02,637.42 220.31,630.08 222.61,680.26 224.9,623.96 227.2,696.33 229.49,625.95 231.79,632.07 234.08,632.83 236.38,695.56 238.37,621.36 240.51,689.44 242.5,685.16 244.79,689.75 247.09,666.49 249.38,629.01 251.68,637.42 253.97,681.79 256.27,690.67 258.26,628.24 260.4,652.72" fill="none" stroke="#0000ff" stroke-width="1.6" stroke-linejoin="round"/>
<line x1="41.95" y1="677.23" x2="128.99" y2="661.05" stroke="#ff00ff" stroke-width="1.45"/>
<line x1="128.99" y1="667.4" x2="260.4" y2="657.31" stroke="#ff7a00" stroke-width="1.25"/>
<line x1="41.95" y1="673.45" x2="260.4" y2="657.31" stroke="#000" stroke-width="1.45" stroke-dasharray="4.9 2.4"/>
<rect x="17.5" y="618.5" width="245" height="84.5" fill="none" stroke="#404040" stroke-width="1.4"/>
<line x1="14.3" y1="703" x2="17.5" y2="703" stroke="#404040" stroke-width="1.3"/>
<text x="10.8" y="705.9" font-size="7.3" text-anchor="end" stroke="#000" stroke-width="0.2">0</text>
<line x1="14.3" y1="686.1" x2="17.5" y2="686.1" stroke="#404040" stroke-width="1.3"/>
<text x="10.8" y="689" font-size="7.3" text-anchor="end" stroke="#000" stroke-width="0.2">50</text>
<line x1="14.3" y1="669.2" x2="17.5" y2="669.2" stroke="#404040" stroke-width="1.3"/>
<text x="10.8" y="672.1" font-size="7.3" text-anchor="end" stroke="#000" stroke-width="0.2">100</text>
<line x1="14.3" y1="652.3" x2="17.5" y2="652.3" stroke="#404040" stroke-width="1.3"/>
<text x="10.8" y="655.2" font-size="7.3" text-anchor="end" stroke="#000" stroke-width="0.2">150</text>
<line x1="14.3" y1="635.4" x2="17.5" y2="635.4" stroke="#404040" stroke-width="1.3"/>
<text x="10.8" y="638.3" font-size="7.3" text-anchor="end" stroke="#000" stroke-width="0.2">200</text>
<line x1="14.3" y1="618.5" x2="17.5" y2="618.5" stroke="#404040" stroke-width="1.3"/>
<text x="10.8" y="621.4" font-size="7.3" text-anchor="end" stroke="#000" stroke-width="0.2">250</text>
<text x="19.7" y="615.5" font-size="9.8" font-weight="bold" fill="#000" stroke="#000" stroke-width="0.22" textLength="32.8" lengthAdjust="spacingAndGlyphs" xml:space="preserve">Lestijoki</text>
<text x="75.1" y="615.5" font-size="9.8" font-weight="bold" fill="#ff0000" stroke="#ff0000" stroke-width="0.22" textLength="41.9" lengthAdjust="spacingAndGlyphs" xml:space="preserve">Δ =  0.2857</text>
<text x="143.1" y="615.5" font-size="9.8" font-weight="bold" fill="#000" stroke="#000" stroke-width="0.22" textLength="40.2" lengthAdjust="spacingAndGlyphs" xml:space="preserve">Δ = 0.1132</text>
<text x="210.2" y="615.5" font-size="9.8" font-weight="bold" fill="#0000ff" stroke="#0000ff" stroke-width="0.22" textLength="39.4" lengthAdjust="spacingAndGlyphs" xml:space="preserve">Δ = 0.1053</text>
<polyline points="288.27,686.3 290.54,685.54 292.8,682.52 295.37,634.9 297.79,686.75 299.91,630.36 302.18,687.06 304.44,685.85 306.71,684.79 308.68,675.72 310.95,686.75 313.21,687.81 315.48,690.84 317.75,685.54 319.56,681.77 321.98,633.39 324.25,683.73 326.52,693.41 328.63,661.36 330.9,624.32 333.17,683.73 335.44,661.36 337.7,685.85 339.97,685.54 342.24,687.06 344.51,631.12 346.78,626.58 349.04,687.06 351.31,684.79 353.58,671.94 355.54,685.54 357.81,624.32 360.08,687.06 362.35,628.85 364.62,684.79 366.88,687.06 369,646.24 371.23,622.05 373.35,685.54 375.77,623.26 377.89,637.17 380.3,673.45 382.42,702.93 384.84,673.45 386.65,625.83 389.38,621.74 391.19,684.03 393.46,671.94 395.72,635.65 397.99,632.63" fill="none" stroke="#ff0000" stroke-width="1.6" stroke-linejoin="round"/>
<polyline points="397.99,632.63 399.96,677.99 402.53,688.57 404.8,682.52 407.06,628.09 409.03,679.5 411.15,677.23 413.41,680.71 415.68,621.74 417.95,634.9 420.22,623.26 422.48,628.09 424.75,632.93 427.02,633.39 428.99,685.85 431.25,623.86 433.52,677.99 435.79,681.77 438.06,678.74 440.32,679.5 442.59,682.52 444.86,679.5 447.13,632.33 449.4,681.01 451.37,622.43 453.66,683.32 455.65,690.67 457.95,681.79 460.24,674.91 462.54,632.07 464.83,632.52 467.13,693.27 469.42,690.21 471.72,626.4 473.7,686.38 475.85,621.81 478.14,630.54 480.44,624.42 482.73,687.91 485.03,626.71 487.02,632.83 489.31,629.46 491.61,630.99 493.9,622.43 496.2,684.85 498.49,632.07 500.79,628.24 502.78,636.66 505.07,692.2 507.21,627.02 509.2,635.89 511.5,687.91 513.79,690.21 516.09,661.9 518.38,634.05 520.68,635.13 522.97,636.66 525.27,687.91 527.26,630.08 529.4,622.43" fill="none" stroke="#0000ff" stroke-width="1.6" stroke-linejoin="round"/>
<line x1="288.27" y1="680.25" x2="397.99" y2="653.04" stroke="#ff00ff" stroke-width="1.45"/>
<line x1="397.99" y1="662.11" x2="529.4" y2="646.6" stroke="#ff7a00" stroke-width="1.25"/>
<line x1="288.27" y1="674.66" x2="529.4" y2="646.91" stroke="#000" stroke-width="1.45" stroke-dasharray="4.9 2.4"/>
<rect x="286.5" y="619" width="245" height="84.7" fill="none" stroke="#404040" stroke-width="1.4"/>
<line x1="531.5" y1="703.7" x2="534.7" y2="703.7" stroke="#404040" stroke-width="1.3"/>
<text x="537.9" y="706.6" font-size="7.3" stroke="#000" stroke-width="0.2">0</text>
<line x1="531.5" y1="686.76" x2="534.7" y2="686.76" stroke="#404040" stroke-width="1.3"/>
<text x="537.9" y="689.66" font-size="7.3" stroke="#000" stroke-width="0.2">50</text>
<line x1="531.5" y1="669.82" x2="534.7" y2="669.82" stroke="#404040" stroke-width="1.3"/>
<text x="537.9" y="672.72" font-size="7.3" stroke="#000" stroke-width="0.2">100</text>
<line x1="531.5" y1="652.88" x2="534.7" y2="652.88" stroke="#404040" stroke-width="1.3"/>
<text x="537.9" y="655.78" font-size="7.3" stroke="#000" stroke-width="0.2">150</text>
<line x1="531.5" y1="635.94" x2="534.7" y2="635.94" stroke="#404040" stroke-width="1.3"/>
<text x="537.9" y="638.84" font-size="7.3" stroke="#000" stroke-width="0.2">200</text>
<line x1="531.5" y1="619" x2="534.7" y2="619" stroke="#404040" stroke-width="1.3"/>
<text x="537.9" y="621.9" font-size="7.3" stroke="#000" stroke-width="0.2">250</text>
<text x="290.6" y="616.4" font-size="9.8" font-weight="bold" fill="#000" stroke="#000" stroke-width="0.22" textLength="25.9" lengthAdjust="spacingAndGlyphs" xml:space="preserve">Vuoksi</text>
<text x="347.5" y="616.4" font-size="9.8" font-weight="bold" fill="#ff0000" stroke="#ff0000" stroke-width="0.22" textLength="39.4" lengthAdjust="spacingAndGlyphs" xml:space="preserve">Δ = 0.5000</text>
<text x="415.2" y="616.4" font-size="9.8" font-weight="bold" fill="#000" stroke="#000" stroke-width="0.22" textLength="39.4" lengthAdjust="spacingAndGlyphs" xml:space="preserve">Δ = 0.7111</text>
<text x="482.8" y="616.4" font-size="9.8" font-weight="bold" fill="#0000ff" stroke="#0000ff" stroke-width="0.22" textLength="39.2" lengthAdjust="spacingAndGlyphs" xml:space="preserve">Δ = 0.0968</text>
<polyline points="41.95,776.72 43.91,791.84 46.18,780.5 48.45,776.72 50.56,766.13 52.83,786.85 55.1,786.85 57.52,785.03 59.63,775.21 61.9,780.5 64.17,768.4 66.44,787.3 68.7,764.17 70.97,771.12 72.94,791.08 75.21,771.12 77.47,767.65 79.74,766.13 82.01,791.08 84.28,769.61 86.54,761.6 88.81,789.27 91.08,790.78 93.35,787.3 95.62,774.75 97.88,783.22 100,767.65 102.08,778.99 104.35,783.22 106.32,773.69 108.58,773.24 110.85,775.66 113.12,786.85 115.39,782.77 117.65,783.52 119.92,769.16 122.19,778.99 124.46,796.37 126.72,769.16 128.99,766.13" fill="none" stroke="#ff0000" stroke-width="1.6" stroke-linejoin="round"/>
<polyline points="128.99,766.13 130.96,766.59 133.07,782.01 135.34,779.74 137.61,777.47 139.88,785.34 142.15,766.89 144.41,769.16 146.68,773.69 148.95,776.72 151.22,754.49 153.48,771.12 155.75,786.54 158.02,787.3 160.29,788.81 162.56,775.96 164.52,779.74 166.79,791.84 169.06,771.43 171.32,760.84 173.59,721.54 175.86,769.16 178.13,772.18 180.4,773.69 182.37,754.03 184.66,767.49 186.65,781.26 188.95,782.03 191.24,776.98 193.54,774.38 195.52,775.91 197.82,790.75 200.11,768.72 202.41,776.67 204.7,782.79 206.85,784.32 209.14,780.04 211.44,786.62 213.43,775.14 215.72,777.9 218.02,759.08 220.31,775.14 222.61,784.32 224.6,758.01 226.89,759.84 229.19,781.26 231.48,766.73 233.78,777.44 235.92,785.85 238.21,777.44 240.2,778.2 242.5,787.38 244.79,782.03 247.09,778.2 249.38,779.43 251.68,781.26 253.97,786.62 256.27,787.69 258.26,787.38 260.09,777.44" fill="none" stroke="#0000ff" stroke-width="1.6" stroke-linejoin="round"/>
<line x1="41.95" y1="778.68" x2="128.99" y2="778.23" stroke="#ff00ff" stroke-width="1.45"/>
<line x1="128.99" y1="771.12" x2="260.09" y2="779.73" stroke="#ff7a00" stroke-width="1.25"/>
<line x1="41.95" y1="777.78" x2="260.09" y2="775.91" stroke="#000" stroke-width="1.45" stroke-dasharray="4.9 2.4"/>
<rect x="17.5" y="719.5" width="245" height="84.5" fill="none" stroke="#404040" stroke-width="1.4"/>
<line x1="14.3" y1="804" x2="17.5" y2="804" stroke="#404040" stroke-width="1.3"/>
<text x="10.8" y="806.9" font-size="7.3" text-anchor="end" stroke="#000" stroke-width="0.2">0</text>
<line x1="14.3" y1="782.88" x2="17.5" y2="782.88" stroke="#404040" stroke-width="1.3"/>
<text x="10.8" y="785.77" font-size="7.3" text-anchor="end" stroke="#000" stroke-width="0.2">40</text>
<line x1="14.3" y1="761.75" x2="17.5" y2="761.75" stroke="#404040" stroke-width="1.3"/>
<text x="10.8" y="764.65" font-size="7.3" text-anchor="end" stroke="#000" stroke-width="0.2">80</text>
<line x1="14.3" y1="740.62" x2="17.5" y2="740.62" stroke="#404040" stroke-width="1.3"/>
<text x="10.8" y="743.52" font-size="7.3" text-anchor="end" stroke="#000" stroke-width="0.2">120</text>
<line x1="14.3" y1="719.5" x2="17.5" y2="719.5" stroke="#404040" stroke-width="1.3"/>
<text x="10.8" y="722.4" font-size="7.3" text-anchor="end" stroke="#000" stroke-width="0.2">160</text>
<line x1="17.5" y1="804" x2="17.5" y2="806.8" stroke="#404040" stroke-width="1.3"/>
<text x="17.5" y="817.6" font-size="7.5" text-anchor="middle" stroke="#000" stroke-width="0.2">1910</text>
<line x1="39.77" y1="804" x2="39.77" y2="806.8" stroke="#404040" stroke-width="1.3"/>
<text x="39.77" y="817.6" font-size="7.5" text-anchor="middle" stroke="#000" stroke-width="0.2">1920</text>
<line x1="62.05" y1="804" x2="62.05" y2="806.8" stroke="#404040" stroke-width="1.3"/>
<text x="62.05" y="817.6" font-size="7.5" text-anchor="middle" stroke="#000" stroke-width="0.2">1930</text>
<line x1="84.32" y1="804" x2="84.32" y2="806.8" stroke="#404040" stroke-width="1.3"/>
<text x="84.32" y="817.6" font-size="7.5" text-anchor="middle" stroke="#000" stroke-width="0.2">1940</text>
<line x1="106.59" y1="804" x2="106.59" y2="806.8" stroke="#404040" stroke-width="1.3"/>
<text x="106.59" y="817.6" font-size="7.5" text-anchor="middle" stroke="#000" stroke-width="0.2">1950</text>
<line x1="128.86" y1="804" x2="128.86" y2="806.8" stroke="#404040" stroke-width="1.3"/>
<text x="128.86" y="817.6" font-size="7.5" text-anchor="middle" stroke="#000" stroke-width="0.2">1960</text>
<line x1="151.14" y1="804" x2="151.14" y2="806.8" stroke="#404040" stroke-width="1.3"/>
<text x="151.14" y="817.6" font-size="7.5" text-anchor="middle" stroke="#000" stroke-width="0.2">1970</text>
<line x1="173.41" y1="804" x2="173.41" y2="806.8" stroke="#404040" stroke-width="1.3"/>
<text x="173.41" y="817.6" font-size="7.5" text-anchor="middle" stroke="#000" stroke-width="0.2">1980</text>
<line x1="195.68" y1="804" x2="195.68" y2="806.8" stroke="#404040" stroke-width="1.3"/>
<text x="195.68" y="817.6" font-size="7.5" text-anchor="middle" stroke="#000" stroke-width="0.2">1990</text>
<line x1="217.95" y1="804" x2="217.95" y2="806.8" stroke="#404040" stroke-width="1.3"/>
<text x="217.95" y="817.6" font-size="7.5" text-anchor="middle" stroke="#000" stroke-width="0.2">2000</text>
<line x1="240.23" y1="804" x2="240.23" y2="806.8" stroke="#404040" stroke-width="1.3"/>
<text x="240.23" y="817.6" font-size="7.5" text-anchor="middle" stroke="#000" stroke-width="0.2">2010</text>
<line x1="262.5" y1="804" x2="262.5" y2="806.8" stroke="#404040" stroke-width="1.3"/>
<text x="262.5" y="817.6" font-size="7.5" text-anchor="middle" stroke="#000" stroke-width="0.2">2020</text>
<text x="18.9" y="716.7" font-size="9.8" font-weight="bold" fill="#000" stroke="#000" stroke-width="0.22" textLength="34.9" lengthAdjust="spacingAndGlyphs" xml:space="preserve">Paatsjoki</text>
<text x="75.1" y="716.7" font-size="9.8" font-weight="bold" fill="#ff0000" stroke="#ff0000" stroke-width="0.22" textLength="39.4" lengthAdjust="spacingAndGlyphs" xml:space="preserve">Δ = 0.1181</text>
<text x="143.8" y="716.7" font-size="9.8" font-weight="bold" fill="#000" stroke="#000" stroke-width="0.22" textLength="39.5" lengthAdjust="spacingAndGlyphs" xml:space="preserve">Δ = 0.0000</text>
<text x="210.8" y="716.7" font-size="9.8" font-weight="bold" fill="#0000ff" stroke="#0000ff" stroke-width="0.22" textLength="45.8" lengthAdjust="spacingAndGlyphs" xml:space="preserve">Δ = − 0.2500</text>
<text x="256.9" y="712.8" font-size="6.5" font-weight="bold" fill="#0000ff">*</text>
<polyline points="288.27,763.87 290.54,762.36 292.8,759.63 295.07,760.84 297.34,772.94 299.61,773.24 301.87,778.23 304.14,751.02 306.41,766.13 308.68,734.39 310.95,766.89 313.21,770.22 315.48,747.24 317.75,754.8 320.02,755.55 322.28,777.47 324.55,784.28 326.52,786.54 328.63,780.5 330.9,753.28 333.17,772.64 335.44,738.17 337.7,782.77 339.97,749.96 342.24,751.02 344.21,770.67 346.47,751.02 348.74,756.31 351.01,763.11 353.28,768.4 355.54,760.84 357.81,764.62 360.08,775.21 362.35,774.75 364.62,774.15 366.88,773.69 369,777.47 370.78,776.72 373.35,754.49 375.62,763.87 377.89,772.94 380.15,773.69 382.12,731.82 384.39,749.5 386.65,772.94 388.92,759.63 391.19,767.65 393.46,768.4 395.72,760.84 397.99,750.26" fill="none" stroke="#ff0000" stroke-width="1.6" stroke-linejoin="round"/>
<polyline points="397.99,750.26 399.96,776.72 402.07,769.91 404.49,794.1 406.61,780.5 408.88,760.54 411.15,760.54 413.41,785.03 415.68,769.16 417.95,769.16 420.22,776.26 422.48,764.62 424.75,769.16 427.02,775.96 429.29,777.17 431.25,748.75 433.52,764.62 435.79,739.38 438.06,748.75 440.32,755.55 442.59,762.36 444.86,775.21 446.83,767.65 449.4,774.45 451.37,761.37 453.66,766.73 455.65,769.02 457.95,785.85 460.24,765.96 462.54,781.26 464.52,744.54 466.82,773.31 469.11,752.5 471.41,778.2 473.7,774.84 475.85,746.84 478.14,767.49 480.44,783.1 482.43,769.02 484.72,758.31 487.02,787.38 489.31,790.14 491.61,782.79 493.9,778.97 496.2,782.03 498.49,781.26 500.48,775.91 502.78,779.73 504.92,767.49 507.21,767.49 509.2,746.84 511.5,778.2 513.79,764.43 516.09,777.44 518.38,760.15 520.68,791.67 522.97,778.97" fill="none" stroke="#0000ff" stroke-width="1.6" stroke-linejoin="round"/>
<line x1="288.27" y1="765.08" x2="397.99" y2="762.66" stroke="#ff00ff" stroke-width="1.45"/>
<line x1="397.99" y1="766.13" x2="522.97" y2="773.61" stroke="#ff7a00" stroke-width="1.25"/>
<line x1="288.27" y1="761.6" x2="522.97" y2="772.39" stroke="#000" stroke-width="1.45" stroke-dasharray="4.9 2.4"/>
<rect x="286.5" y="719.5" width="245" height="84.5" fill="none" stroke="#404040" stroke-width="1.4"/>
<line x1="531.5" y1="804" x2="534.7" y2="804" stroke="#404040" stroke-width="1.3"/>
<text x="537.9" y="806.9" font-size="7.3" stroke="#000" stroke-width="0.2">0</text>
<line x1="531.5" y1="791.93" x2="534.7" y2="791.93" stroke="#404040" stroke-width="1.3"/>
<text x="537.9" y="794.83" font-size="7.3" stroke="#000" stroke-width="0.2">20</text>
<line x1="531.5" y1="779.86" x2="534.7" y2="779.86" stroke="#404040" stroke-width="1.3"/>
<text x="537.9" y="782.76" font-size="7.3" stroke="#000" stroke-width="0.2">40</text>
<line x1="531.5" y1="767.79" x2="534.7" y2="767.79" stroke="#404040" stroke-width="1.3"/>
<text x="537.9" y="770.69" font-size="7.3" stroke="#000" stroke-width="0.2">60</text>
<line x1="531.5" y1="755.71" x2="534.7" y2="755.71" stroke="#404040" stroke-width="1.3"/>
<text x="537.9" y="758.61" font-size="7.3" stroke="#000" stroke-width="0.2">80</text>
<line x1="531.5" y1="743.64" x2="534.7" y2="743.64" stroke="#404040" stroke-width="1.3"/>
<text x="537.9" y="746.54" font-size="7.3" stroke="#000" stroke-width="0.2">100</text>
<line x1="531.5" y1="731.57" x2="534.7" y2="731.57" stroke="#404040" stroke-width="1.3"/>
<text x="537.9" y="734.47" font-size="7.3" stroke="#000" stroke-width="0.2">120</text>
<line x1="531.5" y1="719.5" x2="534.7" y2="719.5" stroke="#404040" stroke-width="1.3"/>
<text x="537.9" y="722.4" font-size="7.3" stroke="#000" stroke-width="0.2">140</text>
<line x1="286.5" y1="804" x2="286.5" y2="806.8" stroke="#404040" stroke-width="1.3"/>
<text x="286.5" y="817.6" font-size="7.5" text-anchor="middle" stroke="#000" stroke-width="0.2">1910</text>
<line x1="308.77" y1="804" x2="308.77" y2="806.8" stroke="#404040" stroke-width="1.3"/>
<text x="308.77" y="817.6" font-size="7.5" text-anchor="middle" stroke="#000" stroke-width="0.2">1920</text>
<line x1="331.05" y1="804" x2="331.05" y2="806.8" stroke="#404040" stroke-width="1.3"/>
<text x="331.05" y="817.6" font-size="7.5" text-anchor="middle" stroke="#000" stroke-width="0.2">1930</text>
<line x1="353.32" y1="804" x2="353.32" y2="806.8" stroke="#404040" stroke-width="1.3"/>
<text x="353.32" y="817.6" font-size="7.5" text-anchor="middle" stroke="#000" stroke-width="0.2">1940</text>
<line x1="375.59" y1="804" x2="375.59" y2="806.8" stroke="#404040" stroke-width="1.3"/>
<text x="375.59" y="817.6" font-size="7.5" text-anchor="middle" stroke="#000" stroke-width="0.2">1950</text>
<line x1="397.86" y1="804" x2="397.86" y2="806.8" stroke="#404040" stroke-width="1.3"/>
<text x="397.86" y="817.6" font-size="7.5" text-anchor="middle" stroke="#000" stroke-width="0.2">1960</text>
<line x1="420.14" y1="804" x2="420.14" y2="806.8" stroke="#404040" stroke-width="1.3"/>
<text x="420.14" y="817.6" font-size="7.5" text-anchor="middle" stroke="#000" stroke-width="0.2">1970</text>
<line x1="442.41" y1="804" x2="442.41" y2="806.8" stroke="#404040" stroke-width="1.3"/>
<text x="442.41" y="817.6" font-size="7.5" text-anchor="middle" stroke="#000" stroke-width="0.2">1980</text>
<line x1="464.68" y1="804" x2="464.68" y2="806.8" stroke="#404040" stroke-width="1.3"/>
<text x="464.68" y="817.6" font-size="7.5" text-anchor="middle" stroke="#000" stroke-width="0.2">1990</text>
<line x1="486.95" y1="804" x2="486.95" y2="806.8" stroke="#404040" stroke-width="1.3"/>
<text x="486.95" y="817.6" font-size="7.5" text-anchor="middle" stroke="#000" stroke-width="0.2">2000</text>
<line x1="509.23" y1="804" x2="509.23" y2="806.8" stroke="#404040" stroke-width="1.3"/>
<text x="509.23" y="817.6" font-size="7.5" text-anchor="middle" stroke="#000" stroke-width="0.2">2010</text>
<line x1="531.5" y1="804" x2="531.5" y2="806.8" stroke="#404040" stroke-width="1.3"/>
<text x="531.5" y="817.6" font-size="7.5" text-anchor="middle" stroke="#000" stroke-width="0.2">2020</text>
<text x="292.1" y="716.5" font-size="9.8" font-weight="bold" fill="#000" stroke="#000" stroke-width="0.22" textLength="18.8" lengthAdjust="spacingAndGlyphs" xml:space="preserve">Tana</text>
<text x="340.6" y="716.5" font-size="9.8" font-weight="bold" fill="#ff0000" stroke="#ff0000" stroke-width="0.22" textLength="39.2" lengthAdjust="spacingAndGlyphs" xml:space="preserve">Δ = 0.0445</text>
<text x="404.9" y="716.5" font-size="9.8" font-weight="bold" fill="#000" stroke="#000" stroke-width="0.22" textLength="46.4" lengthAdjust="spacingAndGlyphs" xml:space="preserve">Δ = − 0.1837</text>
<text x="480.2" y="716.5" font-size="9.8" font-weight="bold" fill="#0000ff" stroke="#0000ff" stroke-width="0.22" textLength="46.9" lengthAdjust="spacingAndGlyphs" xml:space="preserve">Δ = − 0.1803</text>
</svg>
</body></html>
